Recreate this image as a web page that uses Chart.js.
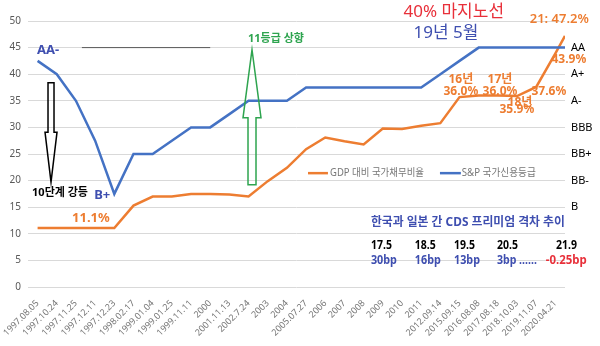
<!DOCTYPE html>
<html>
<head>
<meta charset="utf-8">
<script src="https://cdn.jsdelivr.net/npm/chart.js@4.4.0/dist/chart.umd.min.js"></script>
<style>
  html, body { margin: 0; padding: 0; background: #fff; }
</style>
</head>
<body>
<canvas id="canvas" width="600" height="346"></canvas>
<script>
// category labels on the x axis
const xLabels = ['1997.08.05','1997.10.24','1997.11.25','1997.12.11','1997.12.23','1998.02.17',
  '1999.01.04','1999.01.25','1999.11.11','2000','2001.11.13','2002.7.24','2003','2004',
  '2005.07.27','2006','2007','2008','2009','2010','2011','2012.09.14','2015.09.15',
  '2016.08.08','2017.08.18','2018.10.03','2019.11.07','2020.04.21'];

// GDP 대비 국가채무비율 (%)
const debtRatio = [11.1, 11.1, 11.1, 11.1, 11.1, 15.3, 17.0, 17.0, 17.5, 17.5, 17.4, 17.0, 19.9, 22.4,
  25.9, 28.1, 27.4, 26.8, 29.8, 29.7, 30.3, 30.8, 35.7, 36.0, 36.0, 35.9, 37.6, 43.9];
const debtRatio2021 = 47.2;

// S&P 국가신용등급 (등급 점수)
const creditScore = [42.5, 40, 35, 27.5, 17.5, 25, 25, 27.5, 30, 30, 32.5, 35, 35, 35,
  37.5, 37.5, 37.5, 37.5, 37.5, 37.5, 37.5, 40, 42.5, 45, 45, 45, 45, 45];
const creditScore2021 = 45;

// right axis rating names
const ratingValues = [45, 40, 35, 30, 25, 20, 15];
const ratingNames = ['AA', 'A+', 'A-', 'BBB', 'BB+', 'BB-', 'B'];

// CDS premium gap table
const cdsDates = ['17.5', '18.5', '19.5', '20.5', '21.9'];
const cdsGaps = ['30bp', '16bp', '13bp', '3bp ......', '-0.25bp'];

const FONT = "'Noto Sans', 'Noto Sans CJK KR', sans-serif";
const ORANGE = '#ed7d31';
const BLUE = '#4472c4';
const TXT_BLUE = '#3f4fb0';
const extX = 27.5;

function series(vals, last) {
  const pts = vals.map((v, i) => ({ x: i, y: v }));
  pts.push({ x: extX, y: last });
  return pts;
}

const notes = {
  id: 'notes',
  afterDatasetsDraw(chart) {
    const ctx = chart.ctx;
    const xs = chart.scales.x, ys = chart.scales.y;
    const px = v => xs.getPixelForValue(v);
    const py = v => ys.getPixelForValue(v);

    function text(str, x, y, color, font, align, maxW) {
      ctx.save();
      ctx.font = font + ' ' + FONT;
      ctx.fillStyle = color;
      ctx.textAlign = align || 'center';
      ctx.textBaseline = 'middle';
      if (maxW) ctx.fillText(str, px(x), py(y), maxW);
      else ctx.fillText(str, px(x), py(y));
      ctx.restore();
    }
    function arrow(x, yA, yHead, yB, shaft, head, color) {
      // yA: tail end, yHead: head base, yB: tip
      const cx = px(x), a = py(yA), h = py(yHead), b = py(yB);
      ctx.save();
      ctx.strokeStyle = color;
      ctx.lineWidth = 1.5;
      ctx.beginPath();
      ctx.moveTo(cx - shaft, a);
      ctx.lineTo(cx + shaft, a);
      ctx.lineTo(cx + shaft, h);
      ctx.lineTo(cx + head, h);
      ctx.lineTo(cx, b);
      ctx.lineTo(cx - head, h);
      ctx.lineTo(cx - shaft, h);
      ctx.closePath();
      ctx.stroke();
      ctx.restore();
    }

    arrow(0.7, 38.4, 29.1, 19.7, 3, 6, '#000');
    arrow(11.18, 19.2, 31.8, 44.6, 4, 9, '#2ea44f');

    text('AA-', 0.55, 44.5, TXT_BLUE, 'bold 13px');
    text('B+', 3.37, 17.3, TXT_BLUE, 'bold 13px');
    text('10단계 강등', 1.17, 17.7, '#000', 'bold 11px');
    text('11.1%', 2.78, 13.0, ORANGE, 'bold 13px');
    text('11등급 상향', 12.43, 46.6, '#2ea44f', 'bold 11px');
    text('40% 마지노선', 21.7, 51.7, '#e8303a', '17px');
    text('19년 5월', 21.29, 47.7, TXT_BLUE, '17px');
    text('21: ' + debtRatio2021.toFixed(1) + '%', 27.2, 50.3, ORANGE, '600 13px');
    text(debtRatio[27].toFixed(1) + '%', 27.7, 42.7, ORANGE, 'bold 12px');
    text('16년', 22.07, 38.9, ORANGE, 'bold 12px');
    text(debtRatio[23].toFixed(1) + '%', 22.07, 36.8, ORANGE, 'bold 12px');
    text('17년', 24.11, 38.9, ORANGE, 'bold 12px');
    text(debtRatio[24].toFixed(1) + '%', 24.11, 36.8, ORANGE, 'bold 12px');
    text('18년', 25.15, 34.6, ORANGE, 'bold 12px');
    text(debtRatio[25].toFixed(1) + '%', 24.99, 33.3, ORANGE, 'bold 12px');
    text(debtRatio[26].toFixed(1) + '%', 26.66, 36.7, ORANGE, 'bold 12px');

    // legend
    ctx.save();
    ctx.lineWidth = 2.5;
    ctx.strokeStyle = ORANGE;
    ctx.beginPath(); ctx.moveTo(px(14.1), py(21.4)); ctx.lineTo(px(15.14), py(21.4)); ctx.stroke();
    ctx.strokeStyle = BLUE;
    ctx.beginPath(); ctx.moveTo(px(20.98), py(21.4)); ctx.lineTo(px(22.07), py(21.4)); ctx.stroke();
    ctx.restore();
    text('GDP 대비 국가채무비율', 15.25, 21.4, '#767676', '10px', 'left', 94);
    text('S&P 국가신용등급', 22.12, 21.4, '#767676', '10px', 'left', 74);

    // CDS table
    text('한국과 일본 간 CDS 프리미엄 격차 추이', 17.38, 12.2, TXT_BLUE, 'bold 12px', 'left', 194);
    const colX = [17.38, 19.67, 21.71, 23.95, 26.5];
    const gapW = [26, 26, 26, 40, 41];
    cdsDates.forEach((d, i) => text(d, i === 4 ? 27.03 : colX[i], 7.7, '#000', 'bold 12px', 'left', 21));
    cdsGaps.forEach((g, i) => text(g, colX[i], 4.9, i === 4 ? '#e8303a' : TXT_BLUE, 'bold 12px', 'left', gapW[i]));
  }
};

new Chart(document.getElementById('canvas'), {
  type: 'line',
  data: {
    datasets: [
      {
        label: 'S&P 국가신용등급',
        data: series(creditScore, creditScore2021),
        borderColor: BLUE,
        borderWidth: 2.5,
        pointRadius: 0,
        tension: 0
      },
      {
        label: 'GDP 대비 국가채무비율',
        data: series(debtRatio, debtRatio2021),
        borderColor: ORANGE,
        borderWidth: 2.5,
        pointRadius: 0,
        tension: 0
      },
      {
        label: 'ref',
        data: [{ x: 2.31, y: 45 }, { x: 9.0, y: 45 }],
        borderColor: '#595959',
        borderWidth: 1,
        pointRadius: 0
      }
    ]
  },
  options: {
    responsive: false,
    animation: false,
    devicePixelRatio: 1,
    layout: { padding: { top: 21, left: 0, right: 0, bottom: 0 } },
    plugins: { legend: { display: false }, tooltip: { enabled: false } },
    scales: {
      x: {
        type: 'linear',
        min: -0.5,
        max: extX,
        grid: { display: false },
        border: { display: false },
        afterBuildTicks: a => { a.ticks = xLabels.map((_, i) => ({ value: i })); },
        afterFit: s => { s.height = 59; },
        ticks: {
          autoSkip: false,
          minRotation: 45,
          maxRotation: 45,
          padding: 3,
          color: '#767676',
          font: { size: 9, family: FONT },
          callback: v => xLabels[v] ?? ''
        }
      },
      y: {
        position: 'left',
        min: 0,
        max: 50,
        grid: { color: '#d9d9d9', drawTicks: false },
        border: { display: false },
        afterFit: s => { s.width = 28; },
        ticks: { stepSize: 5, padding: 7, color: '#595959', font: { size: 10, family: FONT } }
      },
      y2: {
        position: 'right',
        min: 0,
        max: 50,
        grid: { display: false, drawTicks: false },
        border: { display: false },
        afterBuildTicks: a => { a.ticks = ratingValues.map(v => ({ value: v })); },
        afterFit: s => { s.width = 35; },
        ticks: {
          padding: 6,
          color: '#000',
          font: { size: 11, family: FONT },
          callback: v => ratingNames[ratingValues.indexOf(v)]
        }
      }
    }
  },
  plugins: [notes]
});
</script>
</body>
</html>
